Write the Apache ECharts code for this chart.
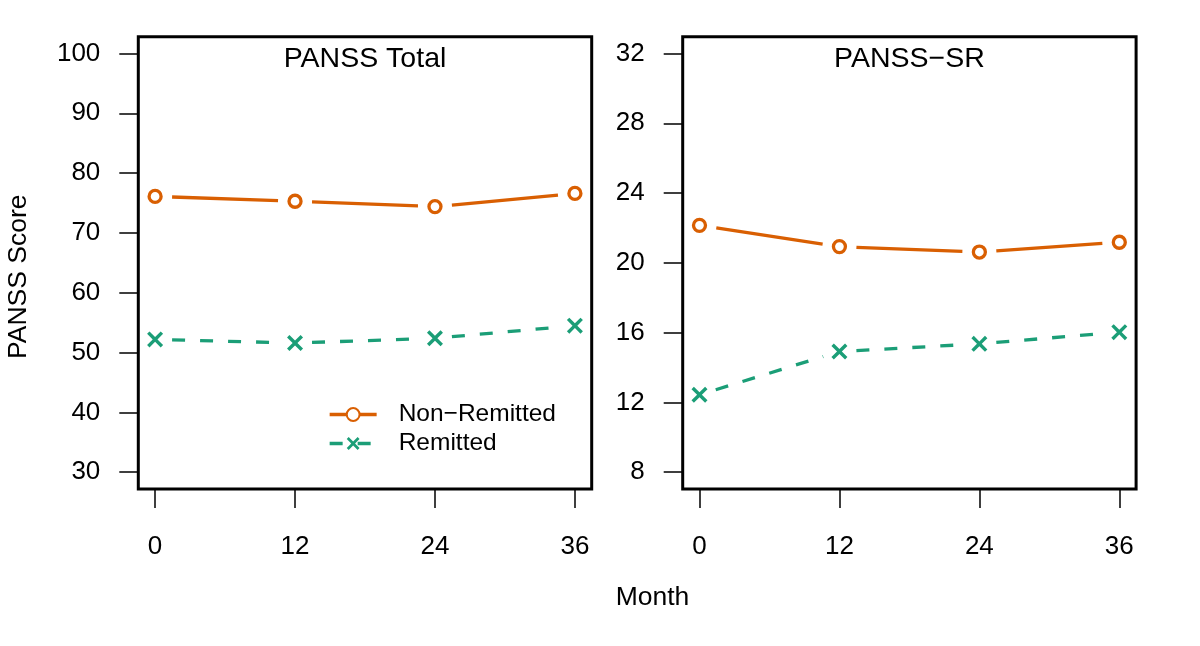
<!DOCTYPE html>
<html><head><meta charset="utf-8">
<script src="https://cdn.jsdelivr.net/npm/echarts@6/dist/echarts.min.js"></script>
<style>html,body{margin:0;padding:0;background:#fff}#c{width:1200px;height:646px}</style>
</head><body><div id="c"></div>
<script>
const months = [0, 12, 24, 36];
const xTicks = [0, 12, 24, 36];
const totalTicks = [30, 40, 50, 60, 70, 80, 90, 100];
const srTicks = [8, 12, 16, 20, 24, 28, 32];
const totalNonRemitted = [76.1, 75.3, 74.4, 76.6];
const totalRemitted = [52.2, 51.6, 52.4, 54.5];
const srNonRemitted = [22.15, 20.93, 20.62, 21.18];
const srRemitted = [12.44, 14.92, 15.36, 16.03];
const panelTitles = ['PANSS Total', 'PANSS\u2212SR'];
const groupNames = ['Non\u2212Remitted', 'Remitted'];
const yAxisName = 'PANSS Score';
const xAxisName = 'Month';

const FONT = '"Liberation Sans", Arial, Helvetica, sans-serif';
const ORANGE = '#D95F02', GREEN = '#1B9E77';
const CROSS = 'path://M1.5,0 L5,3.5 L8.5,0 L10,1.5 L6.5,5 L10,8.5 L8.5,10 L5,6.5 L1.5,10 L0,8.5 L3.5,5 L0,1.5 Z';
const GAP = 17;
const DASH = [13, 15];

function pad(lo, hi) { const d = (hi - lo) * 0.04; return [lo - d, hi + d]; }
const xr = pad(0, 36), yr1 = pad(30, 100), yr2 = pad(8, 32);

const grids = [
  { left: 138.3, top: 36.7, width: 453.4, height: 452.3, show: true, borderColor: '#000', borderWidth: 3, backgroundColor: 'transparent', z: 10 },
  { left: 682.7, top: 36.7, width: 453.4, height: 452.3, show: true, borderColor: '#000', borderWidth: 3, backgroundColor: 'transparent', z: 10 }
];

function xAxis(gi) {
  return {
    type: 'value', gridIndex: gi, min: xr[0], max: xr[1],
    splitLine: { show: false }, axisLine: { show: false, onZero: false },
    axisTick: { show: true, inside: false, length: 19, lineStyle: { color: '#000', width: 1.5 }, customValues: xTicks },
    axisLabel: { customValues: xTicks, margin: 45, color: '#000', fontSize: 26, fontFamily: FONT }
  };
}
function yAxis(gi, r, ticks) {
  return {
    type: 'value', gridIndex: gi, min: r[0], max: r[1],
    splitLine: { show: false }, axisLine: { show: false, onZero: false },
    axisTick: { show: true, inside: false, length: 19, lineStyle: { color: '#000', width: 1.5 }, customValues: ticks },
    axisLabel: { customValues: ticks, margin: 38, color: '#000', fontSize: 26, fontFamily: FONT }
  };
}

function pts(vals) { return months.map((m, i) => [m, vals[i]]); }
function segs(vals) {
  const out = [];
  for (let i = 0; i < months.length - 1; i++) out.push([months[i], vals[i], months[i + 1], vals[i + 1]]);
  return out;
}

function groupSeries(gi, name, vals, color, dashed, isCircle) {
  const symbol = isCircle ? 'circle' : CROSS;
  const symSize = isCircle ? 12 : 16;
  const style = () => isCircle
    ? { color: '#ffffff', borderColor: color, borderWidth: 3.3, opacity: 1 }
    : { color: color, borderWidth: 0, opacity: 1 };
  return [
    { name: name, type: 'line', xAxisIndex: gi, yAxisIndex: gi, data: [],
      symbol: symbol, symbolSize: symSize,
      lineStyle: { color: color, width: 3.3, type: dashed ? DASH : 'solid' },
      itemStyle: style(), emphasis: { disabled: true }, animation: false },
    { name: 'seg' + gi + name, type: 'custom', xAxisIndex: gi, yAxisIndex: gi, data: segs(vals),
      encode: { x: [0, 2], y: [1, 3] }, silent: true, animation: false, z: 3,
      renderItem: function (params, api) {
        const p0 = api.coord([api.value(0), api.value(1)]);
        const p1 = api.coord([api.value(2), api.value(3)]);
        const dx = p1[0] - p0[0], dy = p1[1] - p0[1];
        const L = Math.sqrt(dx * dx + dy * dy);
        const ux = dx / L, uy = dy / L;
        return {
          type: 'line',
          shape: { x1: p0[0] + ux * GAP, y1: p0[1] + uy * GAP, x2: p1[0] - ux * GAP, y2: p1[1] - uy * GAP },
          style: { stroke: color, lineWidth: 3.3, lineDash: dashed ? DASH : null, lineCap: 'butt', fill: null }
        };
      } },
    { name: 'sym' + gi + name, type: 'scatter', xAxisIndex: gi, yAxisIndex: gi, data: pts(vals), z: 6,
      symbol: symbol, symbolSize: symSize,
      itemStyle: style(), silent: true, emphasis: { disabled: true }, animation: false }
  ];
}

const series = [].concat(
  groupSeries(0, groupNames[0], totalNonRemitted, ORANGE, false, true),
  groupSeries(0, groupNames[1], totalRemitted, GREEN, true, false),
  groupSeries(1, groupNames[0], srNonRemitted, ORANGE, false, true),
  groupSeries(1, groupNames[1], srRemitted, GREEN, true, false)
);

const chart = echarts.init(document.getElementById('c'), null, { renderer: 'canvas' });
chart.setOption({
  animation: false,
  backgroundColor: '#fff',
  grid: grids,
  xAxis: [xAxis(0), xAxis(1)],
  yAxis: [yAxis(0, yr1, totalTicks), yAxis(1, yr2, srTicks)],
  legend: {
    data: groupNames, orient: 'vertical', left: 323, top: 397,
    itemWidth: 47, itemHeight: 16, itemGap: 4,
    lineStyle: { width: 3.3 },
    textStyle: { color: '#000', fontSize: 24.5, fontFamily: FONT, padding: [0, 0, 0, 17] },
    selectedMode: false
  },
  graphic: [
    { type: 'text', x: 365, y: 59.3, silent: true, style: { text: panelTitles[0], fontSize: 28.5, fontFamily: FONT, fill: '#000', textAlign: 'center', textVerticalAlign: 'middle' } },
    { type: 'text', x: 909.4, y: 59.3, silent: true, style: { text: panelTitles[1], fontSize: 28.5, fontFamily: FONT, fill: '#000', textAlign: 'center', textVerticalAlign: 'middle' } },
    { type: 'text', x: 19, y: 276.7, rotation: Math.PI / 2, silent: true, style: { text: yAxisName, fontSize: 26.5, fontFamily: FONT, fill: '#000', textAlign: 'center', textVerticalAlign: 'middle' } },
    { type: 'text', x: 652.5, y: 597.5, silent: true, style: { text: xAxisName, fontSize: 26.5, fontFamily: FONT, fill: '#000', textAlign: 'center', textVerticalAlign: 'middle' } }
  ],
  series: series
});
</script></body></html>
